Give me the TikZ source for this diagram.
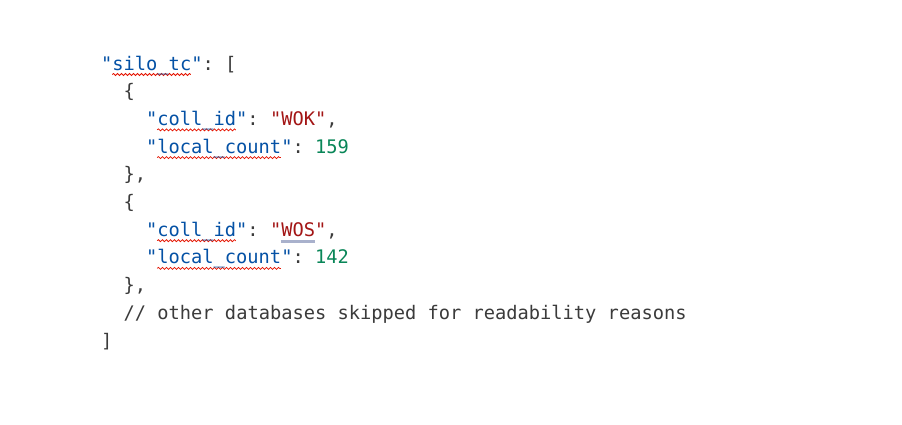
\documentclass[tikz,border=0pt]{standalone}
\usepackage{fontspec}
\setmonofont{DejaVu Sans Mono}
\usetikzlibrary{decorations.pathmorphing}
\definecolor{keyc}{HTML}{0451A5}
\definecolor{strc}{HTML}{A31515}
\definecolor{numc}{HTML}{098658}
\definecolor{punc}{HTML}{3B3B3B}
\definecolor{squig}{HTML}{E51400}
\definecolor{uline}{HTML}{A9B1CC}
\newcommand\Kc[1]{\textcolor{keyc}{#1}}
\newcommand\Sc[1]{\textcolor{strc}{#1}}
\newcommand\Nc[1]{\textcolor{numc}{#1}}
\newcommand\spc{\hphantom{x}}
\begin{document}
\begin{tikzpicture}[x=1pt,y=-1pt,
  code/.style={anchor=base west, inner sep=0pt, text=punc,
    font=\ttfamily\fontsize{18.7}{22}\selectfont},
  squiggle/.style={draw=squig, line width=0.75pt, decorate,
    decoration={snake, amplitude=1.0pt, segment length=4pt}},
  warnline/.style={draw=uline, line width=2.6pt}]
\useasboundingbox (0,0) rectangle (902,424);
\fill[white] (0,0) rectangle (902,424);
\def\cw{11.24}
\def\lh{27.7}
% spell-check squiggles (under the text)
\draw[squiggle] ({101+1*\cw},{74.5+0*\lh}) -- ({101+8*\cw},{74.5+0*\lh});
\draw[squiggle] ({101+5*\cw},{74.5+2*\lh}) -- ({101+12*\cw},{74.5+2*\lh});
\draw[squiggle] ({101+5*\cw},{74.5+3*\lh}) -- ({101+16*\cw},{74.5+3*\lh});
\draw[squiggle] ({101+5*\cw},{74.5+6*\lh}) -- ({101+12*\cw},{74.5+6*\lh});
\draw[squiggle] ({101+5*\cw},{74.5+7*\lh}) -- ({101+16*\cw},{74.5+7*\lh});
\draw[warnline] ({101+16*\cw},{75.5+6*\lh}) -- ({101+19*\cw},{75.5+6*\lh});
\node[code] (l1) at (101,70) {\Kc{"silo\_tc"}:\spc[};
\node[code] (l2) at ({101+2*\cw},{70+1*\lh}) {\{};
\node[code] (l3) at ({101+4*\cw},{70+2*\lh}) {\Kc{"coll\_id"}:\spc\Sc{"WOK"},};
\node[code] (l4) at ({101+4*\cw},{70+3*\lh}) {\Kc{"local\_count"}:\spc\Nc{159}};
\node[code] (l5) at ({101+2*\cw},{70+4*\lh}) {\},};
\node[code] (l6) at ({101+2*\cw},{70+5*\lh}) {\{};
\node[code] (l7) at ({101+4*\cw},{70+6*\lh}) {\Kc{"coll\_id"}:\spc\Sc{"WOS"},};
\node[code] (l8) at ({101+4*\cw},{70+7*\lh}) {\Kc{"local\_count"}:\spc\Nc{142}};
\node[code] (l9) at ({101+2*\cw},{70+8*\lh}) {\},};
\node[code] (l10) at ({101+2*\cw},{70+9*\lh}) {//\spc{}other\spc{}databases\spc{}skipped\spc{}for\spc{}readability\spc{}reasons};
\node[code] (l11) at (101,{70+10*\lh}) {]};
\end{tikzpicture}
\end{document}
